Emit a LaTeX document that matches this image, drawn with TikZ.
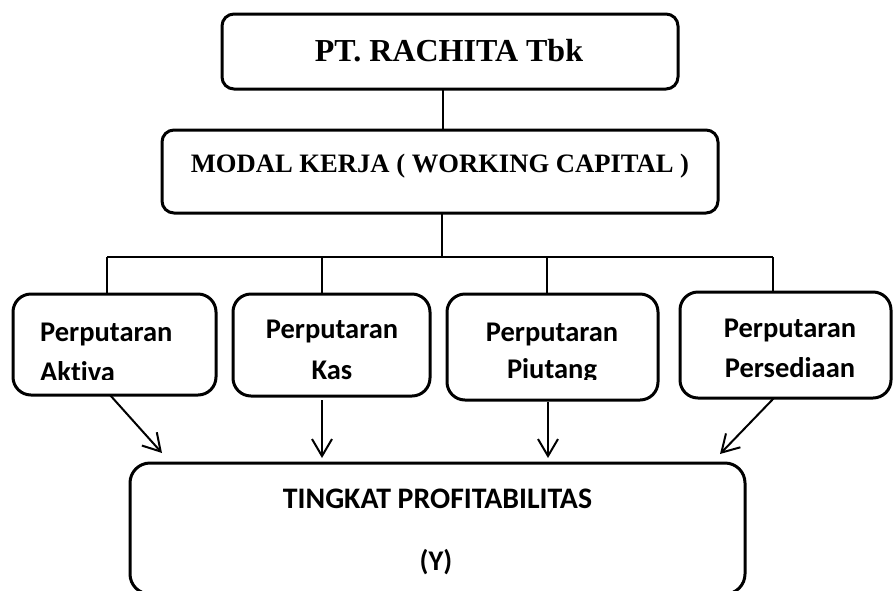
\documentclass[tikz,border=0pt]{standalone}
\usepackage{fontspec}
\setmainfont{Liberation Serif}
\newfontfamily\calfont[Ligatures=NoCommon]{Carlito}
\usetikzlibrary{arrows.meta}
\begin{document}
\begin{tikzpicture}[x=1pt,y=-1pt,
  box/.style={draw, line width=3pt, inner sep=0pt, outer sep=0pt},
  conn/.style={draw, line width=2pt},
  arr/.style={draw, line width=2pt, -{Straight Barb[length=17pt,width=20pt]}},
  serif/.style={inner sep=0pt, anchor=base, font=\bfseries},
  sans/.style={inner sep=0pt, anchor=base, font=\calfont\bfseries\fontsize{28.5}{34}\selectfont},
  sansl/.style={inner sep=0pt, anchor=base west, font=\calfont\bfseries\fontsize{28.5}{34}\selectfont}]
\useasboundingbox (0,0) rectangle (894,590);

% boxes
\node[box, rounded corners=12pt, minimum width=456pt, minimum height=75pt] (top) at (450,51.5) {};
\node[box, rounded corners=12pt, minimum width=556pt, minimum height=83pt] (modal) at (440,171.5) {};
\node[box, rounded corners=18pt, minimum width=203pt, minimum height=101pt] (b1) at (114.5,344.5) {};
\node[box, rounded corners=18pt, minimum width=197pt, minimum height=102pt] (b2) at (331.5,345) {};
\node[box, rounded corners=18pt, minimum width=211pt, minimum height=106pt] (b3) at (552.5,347) {};
\node[box, rounded corners=18pt, minimum width=211pt, minimum height=106pt] (b4) at (785.5,345) {};
\node[box, rounded corners=20pt, minimum width=615pt, minimum height=131pt] (bot) at (437.5,528.5) {};

% texts
\node[serif, font=\bfseries\fontsize{32}{38}\selectfont] (ttop) at (449,61) {PT. RACHITA Tbk};
\node[serif, font=\bfseries\fontsize{26.6}{32}\selectfont] (tmodal) at (440,172) {MODAL KERJA ( WORKING CAPITAL )};
\begin{scope}
  \clip (0,0) rectangle (894,379.5);
  \node[sansl] (t1a) at (40,341) {Perputaran};
  \node[sansl] (t1b) at (40,381.5) {Aktiva};
  \node[sans] (t3a) at (552,341) {Perputaran};
  \node[sans] (t3b) at (552,378.5) {Piutang};
\end{scope}
\node[sans] (t2a) at (332,338.5) {Perputaran};
\node[sans] (t2b) at (332,379.3) {Kas};
\node[sans] (t4a) at (790,337) {Perputaran};
\node[sans] (t4b) at (790,377) {Persediaan};
\node[sans, font=\calfont\bfseries\fontsize{29.8}{36}\selectfont] (tbot) at (437.5,508) {TINGKAT PROFITABILITAS};
\node[sans] (ty) at (436,570) {(Y)};

% connectors
\coordinate (j0) at (443,110);
\coordinate (hub) at (442,257);
\coordinate (d1) at (107,257);
\coordinate (d2) at (322,257);
\coordinate (d3) at (547,257);
\coordinate (d4) at (773,257);
\path[conn] (top.south -| j0) -- (modal.north -| j0);
\path[conn] (modal.south -| hub) -- (hub);
\path[conn] (d1) -- (d4);
\path[conn] (d1) -- (b1.north -| d1);
\path[conn] (d2) -- (b2.north -| d2);
\path[conn] (d3) -- (b3.north -| d3);
\path[conn] (d4) -- (b4.north -| d4);

% arrows
\coordinate (t1) at (162,453);
\coordinate (t2) at (322,458);
\coordinate (t3) at (548,458);
\coordinate (t4) at (720,454);
\coordinate (s1) at (110,395);
\coordinate (s4) at (774,398);
\path[arr] (b1.south -| s1) -- (t1);
\path[arr, shorten <=4pt] (b2.south -| t2) -- (t2);
\path[arr, shorten <=2pt] (b3.south -| t3) -- (t3);
\path[arr] (b4.south -| s4) -- (t4);
\end{tikzpicture}
\end{document}
